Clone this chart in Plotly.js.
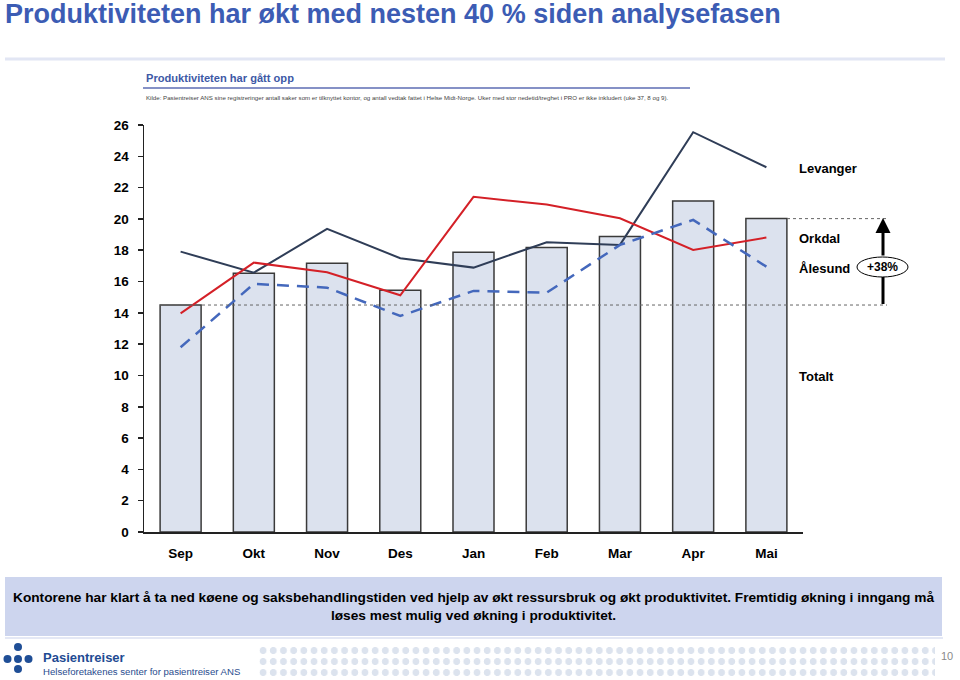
<!DOCTYPE html>
<html>
<head>
<meta charset="utf-8">
<script src="https://cdn.plot.ly/plotly-3.0.1.min.js"></script>
<style>
  html, body { margin: 0; padding: 0; background: #fff; }
  #wrap { position: relative; width: 960px; height: 680px; }
  #chart { position: absolute; left: 0; top: 0; width: 960px; height: 680px; }
  #dots { position: absolute; left: 258px; top: 645px; width: 677px; height: 33px;
          background-image: radial-gradient(circle, #DCE3EE 3.2px, rgba(255,255,255,0) 3.8px);
          background-size: 10.2px 11px; pointer-events: none; }
</style>
</head>
<body>
<div id="wrap">
  <div id="chart"></div>
  <div id="dots"></div>
</div>
<script>
// ---- data ----
const months = ['Sep', 'Okt', 'Nov', 'Des', 'Jan', 'Feb', 'Mar', 'Apr', 'Mai'];
const totalt = [14.5, 16.53, 17.17, 15.44, 17.87, 18.18, 18.87, 21.15, 20.02];
const levanger = [17.91, 16.57, 19.36, 17.49, 16.89, 18.51, 18.34, 25.54, 23.30];
const orkdal = [13.97, 17.21, 16.59, 15.12, 21.41, 20.92, 20.04, 18.02, 18.81];
const alesund = [11.80, 15.85, 15.61, 13.80, 15.40, 15.29, 18.34, 19.94, 16.95];
const yTicks = [0, 2, 4, 6, 8, 10, 12, 14, 16, 18, 20, 22, 24, 26];
const seriesNames = ['Totalt', 'Levanger', 'Orkdal', 'Ålesund'];
const changeLabel = '+38%';

// ---- layout helpers (pixel -> paper) ----
const L = 144, R = 803, T = 125, B = 532;
const px = x => (x - L) / (R - L);
const py = y => (B - y) / (B - T);

const FONT = 'Liberation Sans, Arial, sans-serif';

const traces = [
  { type: 'bar', x: months, y: totalt, name: seriesNames[0], width: 0.56,
    marker: { color: '#DCE2EE', line: { color: '#3A3A3A', width: 1.5 } }, hoverinfo: 'y' },
  { type: 'scatter', mode: 'lines', x: months, y: levanger, name: seriesNames[1],
    line: { color: '#2F3D57', width: 2 } },
  { type: 'scatter', mode: 'lines', x: months, y: orkdal, name: seriesNames[2],
    line: { color: '#D42027', width: 2 } },
  { type: 'scatter', mode: 'lines', x: months, y: alesund, name: seriesNames[3],
    line: { color: '#4468BC', width: 2.5, dash: '12px,8px' } }
];

const first = totalt[0], last = totalt[totalt.length - 1];

const shapes = [
  // top separator
  { type: 'line', xref: 'paper', yref: 'paper', x0: px(5), x1: px(945), y0: py(59), y1: py(59),
    line: { color: '#E2E6F4', width: 3 } },
  // subtitle underline
  { type: 'line', xref: 'paper', yref: 'paper', x0: px(143), x1: px(690), y0: py(88), y1: py(88),
    line: { color: '#8591C6', width: 2 } },
  // reference dotted lines
  { type: 'line', xref: 'paper', yref: 'y', x0: px(160), x1: px(887), y0: first, y1: first,
    line: { color: '#666', width: 1, dash: 'dot' }, layer: 'above' },
  { type: 'line', xref: 'paper', yref: 'y', x0: px(787), x1: px(887), y0: last, y1: last,
    line: { color: '#666', width: 1, dash: 'dot' }, layer: 'above' },
  // arrow shaft (lower part)
  { type: 'line', xref: 'paper', yref: 'paper', x0: px(883), x1: px(883), y0: py(304), y1: py(276),
    line: { color: '#000', width: 3 } },
  // ellipse
  { type: 'circle', xref: 'paper', yref: 'paper', x0: px(857), x1: px(908), y0: py(277), y1: py(257),
    fillcolor: '#fff', line: { color: '#000', width: 1 } },
  // bottom box
  { type: 'rect', xref: 'paper', yref: 'paper', x0: px(5), x1: px(942), y0: py(636), y1: py(577),
    fillcolor: '#CDD5EE', line: { width: 0 }, layer: 'below' },
  { type: 'line', xref: 'paper', yref: 'paper', x0: px(5), x1: px(943), y0: py(638), y1: py(638),
    line: { color: '#E4E8F5', width: 2 } }
];

// logo dots
const logoDots = [[18, 647], [7.5, 659], [18, 659], [28.5, 659], [18, 669]];
logoDots.forEach(d => {
  shapes.push({ type: 'circle', xref: 'paper', yref: 'paper',
    x0: px(d[0] - 4), x1: px(d[0] + 4), y0: py(d[1] + 4), y1: py(d[1] - 4),
    fillcolor: '#1F4E96', line: { width: 0 } });
});

const lab = (text, x, y, opts) => Object.assign({
  text: text, xref: 'paper', yref: 'paper', x: px(x), y: py(y), showarrow: false,
  xanchor: 'left', yanchor: 'middle', font: { family: FONT, size: 13, color: '#000', weight: 'bold' }
}, opts || {});

const annotations = [
  lab('Produktiviteten har gått opp', 144, 78, { font: { family: FONT, size: 11.1, color: '#3D59A6', weight: 'bold' } }),
  lab('Kilde: Pasientreiser ANS sine registreringer antall saker som er tilknyttet kontor, og antall vedtak fattet i Helse Midt-Norge. Uker med stor nedetid/treghet i PRO er ikke inkludert (uke 37, 8 og 9).',
      144, 97, { font: { family: FONT, size: 6.15, color: '#444' } }),
  lab(seriesNames[1], 797, 168),
  lab(seriesNames[2], 797, 238),
  lab(seriesNames[3], 797, 268),
  lab(seriesNames[0], 797, 376),
  lab(changeLabel, 882.5, 267, { xanchor: 'center', font: { family: FONT, size: 12, color: '#000', weight: 'bold' } }),
  // arrow head (upper part of arrow)
  { xref: 'paper', yref: 'paper', x: px(883), y: py(218), ax: 0, ay: 39, showarrow: true,
    arrowhead: 2, arrowsize: 1, arrowwidth: 3, arrowcolor: '#000', standoff: 0, text: '' },
  lab('Kontorene har klart å ta ned køene og saksbehandlingstiden ved hjelp av økt ressursbruk og økt produktivitet. Fremtidig økning i inngang må<br>løses mest mulig ved økning i produktivitet.',
      473.5, 606.5, { xanchor: 'center', align: 'center', font: { family: FONT, size: 13.7, color: '#000', weight: 'bold' } }),
  lab('Pasientreiser', 41, 657, { font: { family: FONT, size: 13, color: '#1E4B93', weight: 'bold' } }),
  lab('Helseforetakenes senter for pasientreiser ANS', 41, 671, { font: { family: FONT, size: 9.6, color: '#2A4C8E' } }),
  lab('10', 939, 656, { font: { family: FONT, size: 11, color: '#8A8A8A' } })
];

const layout = {
  width: 960, height: 680,
  margin: { l: L, r: 960 - R, t: T, b: 680 - B, pad: 0 },
  paper_bgcolor: '#fff', plot_bgcolor: '#fff',
  showlegend: false,
  title: { text: 'Produktiviteten har økt med nesten 40 % siden analysefasen',
    xref: 'container', yref: 'container', x: 5 / 960, xanchor: 'left', y: 1 - 14 / 680, yanchor: 'middle',
    font: { family: FONT, size: 27, color: '#3C5CB4', weight: 'bold' } },
  xaxis: { type: 'category', range: [-0.5, 8.5], showline: true, linecolor: '#222', linewidth: 1.5,
    ticks: '', showgrid: false, zeroline: false, ticklabelstandoff: 8,
    tickfont: { family: FONT, size: 13.5, color: '#000', weight: 'bold' }, fixedrange: true },
  yaxis: { range: [0, 26], tickvals: yTicks, showline: true, linecolor: '#222', linewidth: 1.5,
    ticks: 'outside', ticklen: 5, tickcolor: '#222', tickwidth: 1.5, showgrid: false, zeroline: false,
    ticklabelstandoff: 6,
    tickfont: { family: FONT, size: 13.5, color: '#000', weight: 'bold' }, fixedrange: true },
  bargap: 0.44,
  shapes: shapes,
  annotations: annotations
};

Plotly.newPlot('chart', traces, layout, { staticPlot: true, displayModeBar: false });
</script>
</body>
</html>
